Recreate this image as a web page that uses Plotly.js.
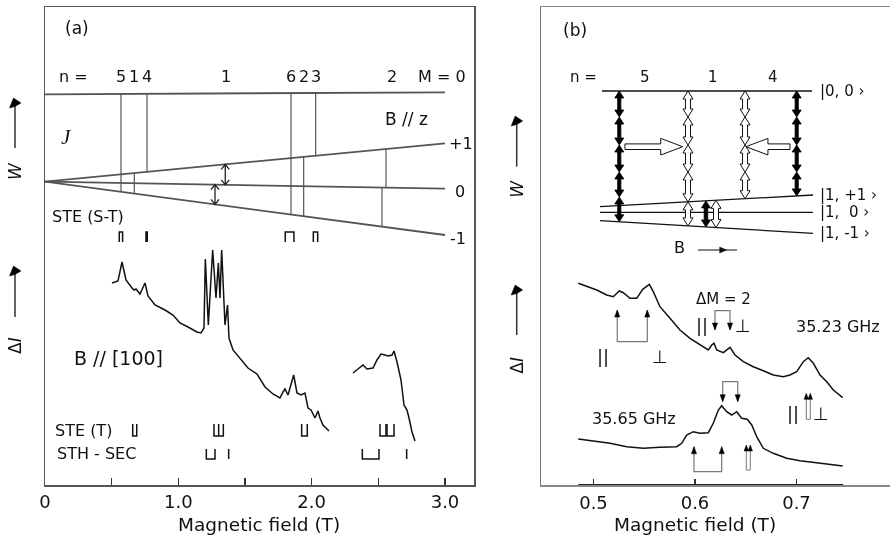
<!DOCTYPE html>
<html><head><meta charset="utf-8">
<script src="https://cdn.plot.ly/plotly-3.0.1.min.js"></script>
<style>html,body{margin:0;padding:0;background:#fff}#chart{width:890px;height:543px;will-change:transform}</style>
</head><body><div id="chart"></div>
<script>
// ================= DATA =================
// Panel (a): level scheme, B // z  (B in T, W in arbitrary units)
const levelB  = [0, 3.0];
const levelS  = [390.7, 392.7];  // M = 0 (upper level)
const levelP1 = [303.3, 341.7];  // M = +1
const level0  = [303.3, 296.4];  // M = 0
const levelM1 = [303.3, 250.0];  // M = -1
// resonant transitions (vertical lines)
const transB    = [0.570, 0.670, 0.765, 1.845, 1.940, 2.030, 2.5575, 2.5275];
const transFrom = ['S', 'P1', 'S', 'S', 'P1', 'S', 'P1', 'Z'];
const transTo   = ['M1', 'M1', 'P1', 'M1', 'M1', 'P1', 'Z', 'M1'];
const nLabelsB  = [0.570, 0.670, 0.765, 1.3575, 1.845, 1.940, 2.030, 2.6025];
const nLabels   = ['5', '1', '4', '1', '6', '2', '3', '2'];
// double arrows (ΔM = 1 within triplet)
const dblB    = [1.352, 1.275];
const dblFrom = ['Z', 'M1'];
const dblTo   = ['P1', 'Z'];
// stick diagrams (field positions, T)
const steST  = [[0.557, 0.582], [0.7575, 0.767], [1.802, 1.867], [2.0125, 2.045]];
const steT   = [[0.658, 0.688], [1.2675, 1.3025, 1.3375], [1.925, 1.967], [2.5125, 2.5575], [2.565, 2.6175]];
const sthSec = [[1.21, 1.275], [1.3775], [2.38, 2.505], [2.7125]];
// ODMR spectrum, B // [100]
const specA1B = [0.5025,0.5475,0.5775,0.6075,0.6525,0.6675,0.6825,0.7125,0.75,0.7725,0.825,0.9,0.96,1.0125,1.0725,1.14,1.17,1.1925,1.2025,1.225,1.2575,1.2825,1.3,1.3125,1.325,1.35,1.369,1.38,1.41,1.4625,1.5225,1.59,1.65,1.71,1.7625,1.785,1.8,1.8225,1.865,1.89,1.92,1.95,1.9725,1.995,2.025,2.0475,2.0625,2.085,2.13];
const specA1I = [202,204,223,205,197,195,196,191,202,189,180,175,170,162,158,153,152,157,226,160,235,187,222,187,235,160,180,147,135,127,117,111,98,91,87,93,96,90,110,92,90,92,77,75,67,74,67,60,54];
const specA2B = [2.31,2.3625,2.385,2.415,2.46,2.49,2.52,2.55,2.5725,2.6025,2.6175,2.64,2.67,2.6925,2.715,2.73,2.7525,2.775];
const specA2I = [112,117,120,116,117,125,131,130,129,130,134,123,105,80,75,67,53,44];

// Panel (b): level scheme
const lvB2   = [0.5064, 0.7163];
const lv00B  = [0.5084, 0.7153];
const lv00   = [394, 394];
const lvP1   = [278.3, 290.0];
const lv0    = [272.7, 272.7];
const lvM1   = [264.3, 251.7];
const levelLabels = ['|0,\u00a00 \u203a', '|1,\u00a0+1 \u203a', '|1,\u00a0\u00a00 \u203a', '|1,\u00a0-1 \u203a'];
const nLabels2B = [0.5507, 0.6177, 0.6768];
const nLabels2  = ['5', '1', '4'];
const colB      = [0.5254, 0.5931, 0.6493, 0.7002];
const colHollow = [false, true, true, false];
const colStops  = [[368, 340, 313, 288, 'M1'], [368, 340, 313, 'P1', 'M1'], [368, 340, 313, 'P1'], [368, 340, 313, 'P1']];
const smallColB = [0.6108, 0.6207];
const smallHollow = [false, true];
const hArrowTail = [0.5310, 0.6936];
const hArrowTip  = [0.5879, 0.6502];
const hArrowW    = 338.3;
// ODMR spectra 35.23 GHz and 35.65 GHz
const specB1B = [0.4850,0.4933,0.5032,0.5130,0.5195,0.5254,0.5294,0.5360,0.5426,0.5485,0.5550,0.5589,0.5655,0.5754,0.5852,0.5951,0.6050,0.6131,0.6165,0.6187,0.6214,0.6279,0.6345,0.6394,0.6476,0.6574,0.6673,0.6771,0.6870,0.6936,0.7002,0.7067,0.7116,0.7166,0.7232,0.7298,0.7363,0.7455];
const specB1I = [201.7,199,195,190,188.3,194,192.3,186.7,186.7,195.7,200.7,193.3,178.3,166.7,155,146.7,140,135,140,141.7,135,132.3,137.7,130,123.3,118.3,114.3,110,108.3,110,113.3,123.3,127.3,121.7,110,103.3,95,87.3];
const specB2B = [0.4850,0.4998,0.5163,0.5327,0.5491,0.5655,0.5820,0.5869,0.5918,0.5983,0.6049,0.6131,0.6180,0.6230,0.6263,0.6312,0.6362,0.6411,0.6460,0.6515,0.6559,0.6608,0.6673,0.6771,0.6903,0.7034,0.7166,0.7298,0.7455];
const specB2I = [46,44.3,41.7,38.3,36.7,37.7,38.3,41.7,50,53.3,51.7,52.3,61.7,75,79.3,73.3,70,73.3,66.7,65.7,60,48.3,36.7,31.7,26.7,24.3,22.3,21,19];
// stick brackets (b)
const brLeft  = [0.5234, 0.6197, 0.6273, 0.5990];
const brRight = [0.5530, 0.6345, 0.6421, 0.6263];
const brBase  = [143.3, 174.3, 103.3, 13.3];
const brTip   = [175, 155, 83.3, 38.3];
const barB    = [0.7116, 0.6525];
const barLow  = [65.7, 15];
const barHigh = [91.7, 40];

// ================= LAYOUT GEOMETRY =================
const W = 890, H = 543;
const pxLeftA = 45, pxRightA = 474, pxLeftB = 541, pxRightB = 890, pxTop = 7, pxBottom = 485;
const rangeA = [0, 3.2175], rangeB = [0.44828, 0.79212], rangeY = [0, 478];
const pxPer = {
  x: (pxRightA - pxLeftA) / (rangeA[1] - rangeA[0]),
  x2: (pxRightB - pxLeftB) / (rangeB[1] - rangeB[0])
};
const PX = v => v / W, PY = v => 1 - v / H;
const FONT = 'DejaVu Sans';

function levA(name, b) {
  const v = {S: levelS, P1: levelP1, Z: level0, M1: levelM1}[name];
  return v[0] + (v[1] - v[0]) * (b - levelB[0]) / (levelB[1] - levelB[0]);
}
function levB(name, b) {
  const v = {T: lv00, P1: lvP1, Z: lv0, M1: lvM1}[name];
  return v[0] + (v[1] - v[0]) * (b - lvB2[0]) / (lvB2[1] - lvB2[0]);
}

const shapes = [];
function addPath(xr, yr, path, color, width, fill) {
  shapes.push({type: 'path', xref: xr, yref: yr, path: path,
    line: {color: color, width: width}, fillcolor: fill || 'rgba(0,0,0,0)', layer: 'above'});
}
function dblArrowPath(xr, x, y0, y1, sw, hw, hl) {
  const k = 1 / pxPer[xr], S = sw * k, Hh = hw * k;
  const yt = y1 - hl, yb = y0 + hl;
  return `M${x - S},${yb} L${x - S},${yt} L${x - Hh},${yt} L${x},${y1} L${x + Hh},${yt} L${x + S},${yt} L${x + S},${yb} L${x + Hh},${yb} L${x},${y0} L${x - Hh},${yb} Z`;
}
function hArrowPath(xr, xTail, xTip, y, sh, hh, hlpx) {
  const k = 1 / pxPer[xr], dir = Math.sign(xTip - xTail), xb = xTip - dir * hlpx * k;
  return `M${xTail},${y - sh} L${xb},${y - sh} L${xb},${y - hh} L${xTip},${y} L${xb},${y + hh} L${xb},${y + sh} L${xTail},${y + sh} Z`;
}
function openDblPath(xr, x, y0, y1) {
  const k = 1 / pxPer[xr], w = 4 * k, h = 5;
  return `M${x},${y0} L${x},${y1} M${x - w},${y1 - h} L${x},${y1} L${x + w},${y1 - h} M${x - w},${y0 + h} L${x},${y0} L${x + w},${y0 + h}`;
}
function triPath(xr, x, yTip, dir, hw, hl) {
  const k = 1 / pxPer[xr];
  return `M${x},${yTip} L${x - hw * k},${yTip - dir * hl} L${x + hw * k},${yTip - dir * hl} Z`;
}

// ---- panel (a) shapes
dblB.forEach((b, i) => addPath('x', 'y', openDblPath('x', b, levA(dblFrom[i], b), levA(dblTo[i], b)), '#222', 1.3));

// ---- panel (b) columns
colB.forEach((b, i) => {
  const stops = [levB('T', b)].concat(colStops[i].map(s => typeof s === 'string' ? levB(s, b) : s));
  for (let j = 0; j < stops.length - 1; j++) {
    const y1 = stops[j], y0 = stops[j + 1];
    if (colHollow[i]) addPath('x2', 'y2', dblArrowPath('x2', b, y0, y1, 2.5, 5, 8), '#111', 1, '#fff');
    else addPath('x2', 'y2', dblArrowPath('x2', b, y0, y1, 1.6, 4.5, 7), '#000', 0.8, '#000');
  }
});
smallColB.forEach((b, i) => {
  const y1 = levB('P1', b), y0 = levB('M1', b);
  if (smallHollow[i]) addPath('x2', 'y2', dblArrowPath('x2', b, y0, y1, 2.5, 5, 8), '#111', 1, '#fff');
  else addPath('x2', 'y2', dblArrowPath('x2', b, y0, y1, 1.8, 4.5, 7), '#000', 0.8, '#000');
});
hArrowTail.forEach((t, i) => addPath('x2', 'y2', hArrowPath('x2', t, hArrowTip[i], hArrowW, 2.8, 8.3, 22), '#111', 1, '#fff'));
// brackets
brLeft.forEach((l, i) => {
  const r = brRight[i], base = brBase[i], tip = brTip[i], dir = Math.sign(tip - base);
  addPath('x2', 'y2', `M${l},${tip} L${l},${base} L${r},${base} L${r},${tip}`, '#777', 1.2);
  addPath('x2', 'y2', triPath('x2', l, tip, dir, 2.6, 7), '#000', 0.5, '#000');
  addPath('x2', 'y2', triPath('x2', r, tip, dir, 2.6, 7), '#000', 0.5, '#000');
});
barB.forEach((b, i) => {
  const k = 1 / pxPer.x2, lo = barLow[i], hi = barHigh[i] - 5;
  addPath('x2', 'y2', `M${b - 2 * k},${lo} L${b - 2 * k},${hi} L${b + 2 * k},${hi} L${b + 2 * k},${lo} Z`, '#777', 1, '#fff');
  addPath('x2', 'y2', triPath('x2', b - 2 * k, barHigh[i], 1, 2.2, 6), '#000', 0.5, '#000');
  addPath('x2', 'y2', triPath('x2', b + 2 * k, barHigh[i], 1, 2.2, 6), '#000', 0.5, '#000');
});
// "B ->" arrow
addPath('x2', 'y2', 'M0.6030,235 L0.6414,235', '#111', 1.2);
shapes.push({type: 'path', xref: 'x2', yref: 'y2', path: `M0.6312,235 L${0.6312 - 7 / pxPer.x2},238 L${0.6312 - 7 / pxPer.x2},232 Z`, line: {color: '#111', width: 0.5}, fillcolor: '#111'});
// dark data segment of lower axis (b)
shapes.push({type: 'line', xref: 'x2', yref: 'y2', x0: 0.485, x1: 0.746, y0: 0, y1: 0, line: {color: '#222', width: 2}});

// ---- axis arrows outside plots (paper)
function axisArrow(x, yTail, yLine, yTip) {
  shapes.push({type: 'line', xref: 'paper', yref: 'paper', x0: PX(x), x1: PX(x), y0: PY(yTail), y1: PY(yLine), line: {color: '#333', width: 1.5}});
  shapes.push({type: 'path', xref: 'paper', yref: 'paper',
    path: `M${PX(x - 1.5)},${PY(yTip)} L${PX(x + 6)},${PY(yTip + 5)} L${PX(x)},${PY(yTip + 8.5)} L${PX(x - 5.5)},${PY(yTip + 10)} Z`,
    line: {color: '#000', width: 0.5}, fillcolor: '#000'});
}
axisArrow(15, 148, 106, 98);
axisArrow(15, 317, 274, 266);
axisArrow(516.7, 166.7, 124, 116);
axisArrow(516.7, 335, 293, 285);

// ================= TRACES =================
const traces = [];
const lineTrace = (x, y, xa, ya, color, width) => ({x: x, y: y, xaxis: xa, yaxis: ya, type: 'scatter', mode: 'lines',
  line: {color: color, width: width}, hoverinfo: 'skip', connectgaps: false});
[levelS, levelP1, level0, levelM1].forEach(v => traces.push(lineTrace(levelB, v, 'x', 'y', '#555', 1.8)));
const tx = [], ty = [];
transB.forEach((b, i) => { tx.push(b, b, null); ty.push(levA(transFrom[i], b), levA(transTo[i], b), null); });
traces.push(lineTrace(tx, ty, 'x', 'y', '#555', 1.2));

function stickTrace(groups, yb, yt, cap) {
  const xs = [], ys = [];
  const yc = cap === 'top' ? yt : yb, yo = cap === 'top' ? yb : yt;
  groups.forEach(g => {
    if (g.length === 1) { xs.push(g[0], g[0], null); ys.push(yb, yt, null); return; }
    xs.push(g[0], g[0], g[g.length - 1], g[g.length - 1], null);
    ys.push(yo, yc, yc, yo, null);
    for (let i = 1; i < g.length - 1; i++) { xs.push(g[i], g[i], null); ys.push(yc, yo, null); }
  });
  return lineTrace(xs, ys, 'x', 'y', '#111', 1.5);
}
traces.push(stickTrace(steST, 243, 253, 'top'));
traces.push(stickTrace(steT, 49, 61, 'bottom'));
traces.push(stickTrace(sthSec, 26, 36, 'bottom'));
traces.push(lineTrace(specA1B, specA1I, 'x', 'y', '#111', 1.5));
traces.push(lineTrace(specA2B, specA2I, 'x', 'y', '#111', 1.5));

traces.push(lineTrace(lv00B, lv00, 'x2', 'y2', '#111', 1.3));
[lvP1, lv0, lvM1].forEach(v => traces.push(lineTrace(lvB2, v, 'x2', 'y2', '#111', 1.3)));
traces.push(lineTrace(specB1B, specB1I, 'x2', 'y2', '#111', 1.5));
traces.push(lineTrace(specB2B, specB2I, 'x2', 'y2', '#111', 1.5));

// ================= ANNOTATIONS =================
const ann = [];
function txt(xr, yr, x, y, text, size, opt) {
  ann.push(Object.assign({xref: xr, yref: yr, x: x, y: y, text: text, showarrow: false,
    font: {family: FONT, size: size, color: '#111'}, xanchor: 'center', yanchor: 'middle'}, opt || {}));
}
// panel (a)
txt('x', 'y', 0.24, 457, '(a)', 17);
txt('x', 'y', 0.21, 408, 'n =', 16);
nLabelsB.forEach((b, i) => txt('x', 'y', b, 408, nLabels[i], 16));
txt('x', 'y', 2.98, 408, 'M = 0', 16);
txt('x', 'y', 2.7075, 366, 'B // z', 17);
txt('x', 'y', 0.1575, 348, '<i>J</i>', 21, {font: {family: 'Liberation Serif', size: 21, color: '#111'}});
txt('x', 'y', 3.12, 341, '+1', 16);
txt('x', 'y', 3.116, 293, '0', 16);
txt('x', 'y', 3.094, 246, '-1', 16);
txt('x', 'y', 0.0375, 268, 'STE (S-T)', 16, {xanchor: 'left'});
txt('x', 'y', 0.5475, 127, 'B // [100]', 19);
txt('x', 'y', 0.06, 55, 'STE (T)', 16, {xanchor: 'left'});
txt('x', 'y', 0.075, 32, 'STH - SEC', 16, {xanchor: 'left'});
// panel (b)
txt('x2', 'y2', 0.4818, 455, '(b)', 17);
txt('x2', 'y2', 0.4897, 408, 'n =', 15);
nLabels2B.forEach((b, i) => txt('x2', 'y2', b, 408, nLabels2[i], 15));
[394, 290, 273, 252].forEach((y, i) => txt('x2', 'y2', 0.7211, y, levelLabels[i], 15, {xanchor: 'left'}));
txt('x2', 'y2', 0.5852, 237, 'B', 16);
txt('x2', 'y2', 0.5097, 128.3, '||', 18);
txt('x2', 'y2', 0.5655, 128.3, '\u22a5', 18);
txt('x2', 'y2', 0.6279, 185.7, '\u0394M = 2', 15);
txt('x2', 'y2', 0.6066, 160, '||', 18);
txt('x2', 'y2', 0.6470, 160, '\u22a5', 18);
txt('x2', 'y2', 0.7412, 159, '35.23 GHz', 16);
txt('x2', 'y2', 0.6963, 71.7, '||', 18);
txt('x2', 'y2', 0.7238, 71.7, '\u22a5', 18);
txt('x2', 'y2', 0.5399, 66.7, '35.65 GHz', 16);
// outside (paper)
txt('paper', 'paper', PX(258.7), PY(524.5), 'Magnetic field (T)', 18.5);
txt('paper', 'paper', PX(695), PY(524.5), 'Magnetic field (T)', 18.5);
txt('paper', 'paper', PX(15), PY(171), '<i>W</i>', 17, {textangle: -90});
txt('paper', 'paper', PX(15), PY(346), '\u0394<i>I</i>', 17, {textangle: -90});
txt('paper', 'paper', PX(516.7), PY(189), '<i>W</i>', 17, {textangle: -90});
txt('paper', 'paper', PX(516.7), PY(365), '\u0394<i>I</i>', 17, {textangle: -90});

// ================= LAYOUT =================
const yDom = [(H - pxBottom) / H, (H - pxTop) / H];
const baseX = {showgrid: false, zeroline: false, showline: true, mirror: true, ticks: 'inside',
  tickfont: {family: FONT, size: 18, color: '#111'}, fixedrange: true};
const layout = {
  width: W, height: H, margin: {l: 0, r: 0, t: 0, b: 0}, showlegend: false,
  paper_bgcolor: '#fff', plot_bgcolor: '#fff', font: {family: FONT, color: '#111'},
  xaxis: Object.assign({}, baseX, {domain: [pxLeftA / W, pxRightA / W], range: rangeA, anchor: 'y',
    linecolor: '#555', linewidth: 1.5, tickcolor: '#333', ticklen: 7, tickwidth: 1.5,
    tickvals: [0, 0.5, 1, 1.5, 2, 2.5, 3], ticktext: ['0', '', '1.0', '', '2.0', '', '3.0']}),
  yaxis: {domain: yDom, range: rangeY, anchor: 'x', showgrid: false, zeroline: false, showline: true, mirror: true,
    linecolor: '#555', linewidth: 1.5, showticklabels: false, ticks: '', fixedrange: true},
  xaxis2: Object.assign({}, baseX, {domain: [pxLeftB / W, pxRightB / W], range: rangeB, anchor: 'y2',
    linecolor: '#888', linewidth: 1.5, tickcolor: '#333', ticklen: 6, tickwidth: 1.5, ticklabelstandoff: 1,
    tickvals: [0.5, 0.6, 0.7], ticktext: ['0.5', '0.6', '0.7']}),
  yaxis2: {domain: yDom, range: rangeY, anchor: 'x2', showgrid: false, zeroline: false, showline: true, mirror: false,
    linecolor: '#777', linewidth: 1.5, showticklabels: false, ticks: '', fixedrange: true},
  shapes: shapes, annotations: ann
};
Plotly.newPlot('chart', traces, layout, {displayModeBar: false, staticPlot: true});
</script></body></html>
